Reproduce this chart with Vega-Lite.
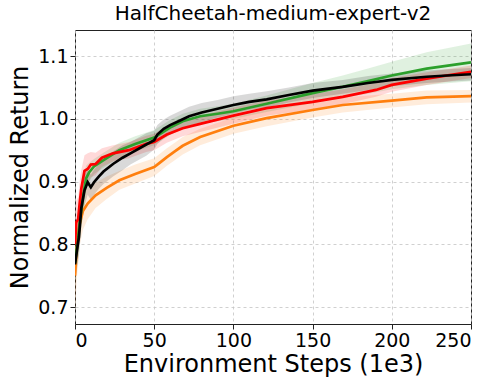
{
  "$schema": "https://vega.github.io/schema/vega-lite/v6.json",
  "autosize": "none",
  "width": 396,
  "height": 294,
  "padding": {"left": 75, "top": 30, "right": 27, "bottom": 64},
  "title": {"text": "HalfCheetah-medium-expert-v2", "fontSize": 20, "fontWeight": "normal", "font": "DejaVu Sans", "color": "#000", "offset": 6},
  "config": {
    "font": "DejaVu Sans",
    "view": {"stroke": "#222", "strokeWidth": 1},
    "axis": {"domain": false, "tickColor": "#222", "tickSize": 5, "labelColor": "#000", "titleColor": "#000", "labelFontSize": 19, "titleFontSize": 24, "titleFontWeight": "normal", "gridColor": "#c4c4c4", "gridDash": [3, 3], "gridWidth": 0.8}
  },
  "datasets": {
    "runs": [
      {"s": "orange", "x": 0, "m": 0.75, "lo": 0.69, "hi": 0.81},
      {"s": "orange", "x": 1, "m": 0.79, "lo": 0.74, "hi": 0.84},
      {"s": "orange", "x": 3, "m": 0.833, "lo": 0.798, "hi": 0.868},
      {"s": "orange", "x": 5, "m": 0.853, "lo": 0.823, "hi": 0.883},
      {"s": "orange", "x": 8, "m": 0.865, "lo": 0.84, "hi": 0.89},
      {"s": "orange", "x": 13, "m": 0.878, "lo": 0.858, "hi": 0.898},
      {"s": "orange", "x": 20, "m": 0.89, "lo": 0.872, "hi": 0.908},
      {"s": "orange", "x": 28, "m": 0.902, "lo": 0.887, "hi": 0.917},
      {"s": "orange", "x": 38, "m": 0.912, "lo": 0.897, "hi": 0.927},
      {"s": "orange", "x": 50, "m": 0.923, "lo": 0.909, "hi": 0.937},
      {"s": "orange", "x": 53, "m": 0.929, "lo": 0.915, "hi": 0.943},
      {"s": "orange", "x": 58, "m": 0.939, "lo": 0.925, "hi": 0.953},
      {"s": "orange", "x": 63, "m": 0.948, "lo": 0.934, "hi": 0.962},
      {"s": "orange", "x": 68, "m": 0.957, "lo": 0.943, "hi": 0.971},
      {"s": "orange", "x": 79, "m": 0.971, "lo": 0.958, "hi": 0.984},
      {"s": "orange", "x": 100, "m": 0.989, "lo": 0.976, "hi": 1.002},
      {"s": "orange", "x": 121, "m": 1.001, "lo": 0.988, "hi": 1.014},
      {"s": "orange", "x": 150, "m": 1.014, "lo": 1.002, "hi": 1.026},
      {"s": "orange", "x": 169, "m": 1.022, "lo": 1.01, "hi": 1.034},
      {"s": "orange", "x": 200, "m": 1.029, "lo": 1.018, "hi": 1.04},
      {"s": "orange", "x": 222, "m": 1.034, "lo": 1.023, "hi": 1.045},
      {"s": "orange", "x": 250, "m": 1.036, "lo": 1.026, "hi": 1.046},

      {"s": "green", "x": 0, "m": 0.77, "lo": 0.74, "hi": 0.80},
      {"s": "green", "x": 1.5, "m": 0.80, "lo": 0.77, "hi": 0.83},
      {"s": "green", "x": 3, "m": 0.835, "lo": 0.805, "hi": 0.865},
      {"s": "green", "x": 5, "m": 0.875, "lo": 0.85, "hi": 0.90},
      {"s": "green", "x": 7, "m": 0.905, "lo": 0.885, "hi": 0.925},
      {"s": "green", "x": 9, "m": 0.915, "lo": 0.90, "hi": 0.93},
      {"s": "green", "x": 12, "m": 0.924, "lo": 0.912, "hi": 0.936},
      {"s": "green", "x": 18, "m": 0.934, "lo": 0.922, "hi": 0.946},
      {"s": "green", "x": 28, "m": 0.95, "lo": 0.938, "hi": 0.962},
      {"s": "green", "x": 38, "m": 0.96, "lo": 0.948, "hi": 0.972},
      {"s": "green", "x": 50, "m": 0.97, "lo": 0.958, "hi": 0.982},
      {"s": "green", "x": 55, "m": 0.978, "lo": 0.966, "hi": 0.99},
      {"s": "green", "x": 60, "m": 0.986, "lo": 0.974, "hi": 0.998},
      {"s": "green", "x": 68, "m": 0.996, "lo": 0.984, "hi": 1.008},
      {"s": "green", "x": 79, "m": 1.004, "lo": 0.992, "hi": 1.016},
      {"s": "green", "x": 90, "m": 1.008, "lo": 0.996, "hi": 1.02},
      {"s": "green", "x": 100, "m": 1.012, "lo": 1.0, "hi": 1.024},
      {"s": "green", "x": 121, "m": 1.024, "lo": 1.011, "hi": 1.037},
      {"s": "green", "x": 150, "m": 1.041, "lo": 1.025, "hi": 1.057},
      {"s": "green", "x": 169, "m": 1.051, "lo": 1.033, "hi": 1.069},
      {"s": "green", "x": 185, "m": 1.06, "lo": 1.04, "hi": 1.08},
      {"s": "green", "x": 200, "m": 1.069, "lo": 1.047, "hi": 1.091},
      {"s": "green", "x": 222, "m": 1.08, "lo": 1.054, "hi": 1.106},
      {"s": "green", "x": 250, "m": 1.09, "lo": 1.06, "hi": 1.12},

      {"s": "red", "x": 0, "m": 0.80, "lo": 0.77, "hi": 0.83},
      {"s": "red", "x": 0.8, "m": 0.835, "lo": 0.80, "hi": 0.87},
      {"s": "red", "x": 2, "m": 0.84, "lo": 0.805, "hi": 0.875},
      {"s": "red", "x": 3, "m": 0.867, "lo": 0.832, "hi": 0.902},
      {"s": "red", "x": 4, "m": 0.889, "lo": 0.859, "hi": 0.919},
      {"s": "red", "x": 6, "m": 0.917, "lo": 0.892, "hi": 0.942},
      {"s": "red", "x": 8, "m": 0.92, "lo": 0.895, "hi": 0.945},
      {"s": "red", "x": 10, "m": 0.927, "lo": 0.907, "hi": 0.947},
      {"s": "red", "x": 13, "m": 0.928, "lo": 0.91, "hi": 0.946},
      {"s": "red", "x": 17, "m": 0.938, "lo": 0.923, "hi": 0.953},
      {"s": "red", "x": 24, "m": 0.945, "lo": 0.932, "hi": 0.958},
      {"s": "red", "x": 34, "m": 0.95, "lo": 0.937, "hi": 0.963},
      {"s": "red", "x": 45, "m": 0.96, "lo": 0.947, "hi": 0.973},
      {"s": "red", "x": 50, "m": 0.963, "lo": 0.95, "hi": 0.976},
      {"s": "red", "x": 58, "m": 0.975, "lo": 0.962, "hi": 0.988},
      {"s": "red", "x": 68, "m": 0.985, "lo": 0.972, "hi": 0.998},
      {"s": "red", "x": 79, "m": 0.992, "lo": 0.979, "hi": 1.005},
      {"s": "red", "x": 100, "m": 1.005, "lo": 0.992, "hi": 1.018},
      {"s": "red", "x": 121, "m": 1.017, "lo": 1.005, "hi": 1.029},
      {"s": "red", "x": 150, "m": 1.027, "lo": 1.015, "hi": 1.039},
      {"s": "red", "x": 169, "m": 1.035, "lo": 1.023, "hi": 1.047},
      {"s": "red", "x": 190, "m": 1.046, "lo": 1.035, "hi": 1.057},
      {"s": "red", "x": 200, "m": 1.054, "lo": 1.043, "hi": 1.065},
      {"s": "red", "x": 222, "m": 1.064, "lo": 1.054, "hi": 1.074},
      {"s": "red", "x": 250, "m": 1.075, "lo": 1.065, "hi": 1.085},

      {"s": "black", "x": 0, "m": 0.768, "lo": 0.738, "hi": 0.798},
      {"s": "black", "x": 1.5, "m": 0.795, "lo": 0.765, "hi": 0.825},
      {"s": "black", "x": 2.5, "m": 0.812, "lo": 0.782, "hi": 0.842},
      {"s": "black", "x": 4, "m": 0.858, "lo": 0.828, "hi": 0.888},
      {"s": "black", "x": 6, "m": 0.886, "lo": 0.861, "hi": 0.911},
      {"s": "black", "x": 8, "m": 0.899, "lo": 0.879, "hi": 0.919},
      {"s": "black", "x": 10, "m": 0.891, "lo": 0.871, "hi": 0.911},
      {"s": "black", "x": 12, "m": 0.899, "lo": 0.879, "hi": 0.919},
      {"s": "black", "x": 15, "m": 0.908, "lo": 0.888, "hi": 0.928},
      {"s": "black", "x": 18, "m": 0.916, "lo": 0.896, "hi": 0.936},
      {"s": "black", "x": 24, "m": 0.928, "lo": 0.908, "hi": 0.948},
      {"s": "black", "x": 30, "m": 0.938, "lo": 0.918, "hi": 0.958},
      {"s": "black", "x": 35, "m": 0.945, "lo": 0.927, "hi": 0.963},
      {"s": "black", "x": 45, "m": 0.959, "lo": 0.941, "hi": 0.977},
      {"s": "black", "x": 50, "m": 0.966, "lo": 0.951, "hi": 0.981},
      {"s": "black", "x": 52, "m": 0.975, "lo": 0.96, "hi": 0.99},
      {"s": "black", "x": 56, "m": 0.984, "lo": 0.969, "hi": 0.999},
      {"s": "black", "x": 60, "m": 0.99, "lo": 0.975, "hi": 1.005},
      {"s": "black", "x": 66, "m": 0.997, "lo": 0.982, "hi": 1.012},
      {"s": "black", "x": 72, "m": 1.004, "lo": 0.989, "hi": 1.019},
      {"s": "black", "x": 80, "m": 1.01, "lo": 0.995, "hi": 1.025},
      {"s": "black", "x": 90, "m": 1.016, "lo": 1.002, "hi": 1.03},
      {"s": "black", "x": 100, "m": 1.022, "lo": 1.008, "hi": 1.036},
      {"s": "black", "x": 110, "m": 1.027, "lo": 1.014, "hi": 1.04},
      {"s": "black", "x": 121, "m": 1.031, "lo": 1.018, "hi": 1.044},
      {"s": "black", "x": 135, "m": 1.038, "lo": 1.026, "hi": 1.05},
      {"s": "black", "x": 150, "m": 1.045, "lo": 1.033, "hi": 1.057},
      {"s": "black", "x": 169, "m": 1.051, "lo": 1.04, "hi": 1.062},
      {"s": "black", "x": 185, "m": 1.057, "lo": 1.046, "hi": 1.068},
      {"s": "black", "x": 200, "m": 1.062, "lo": 1.052, "hi": 1.072},
      {"s": "black", "x": 222, "m": 1.067, "lo": 1.057, "hi": 1.077},
      {"s": "black", "x": 235, "m": 1.069, "lo": 1.059, "hi": 1.079},
      {"s": "black", "x": 250, "m": 1.071, "lo": 1.061, "hi": 1.081}
    ]
  },
  "data": {"name": "runs"},
  "encoding": {
    "x": {"field": "x", "type": "quantitative", "title": "Environment Steps (1e3)",
      "scale": {"domain": [0, 250], "nice": false, "zero": false},
      "axis": {"values": [0, 50, 100, 150, 200, 250], "labelPadding": 2, "titlePadding": 2, "grid": true}},
    "color": {"field": "s", "type": "nominal", "legend": null,
      "scale": {"domain": ["orange", "green", "red", "black"], "range": ["#ff7f0e", "#2ca02c", "#ff0000", "#000000"]}}
  },
  "layer": [
    {
      "mark": {"type": "area", "opacity": 0.15, "clip": true},
      "encoding": {
        "y": {"field": "lo", "type": "quantitative", "title": "Normalized Return",
          "scale": {"domain": [0.673, 1.1415], "nice": false, "zero": false},
          "axis": {"values": [0.7, 0.8, 0.9, 1.0, 1.1], "format": ".1f", "labelPadding": 2, "titlePadding": 5, "grid": true}},
        "y2": {"field": "hi"}
      }
    },
    {
      "mark": {"type": "line", "strokeWidth": 2.7, "clip": true},
      "encoding": {
        "y": {"field": "m", "type": "quantitative"}
      }
    }
  ]
}
